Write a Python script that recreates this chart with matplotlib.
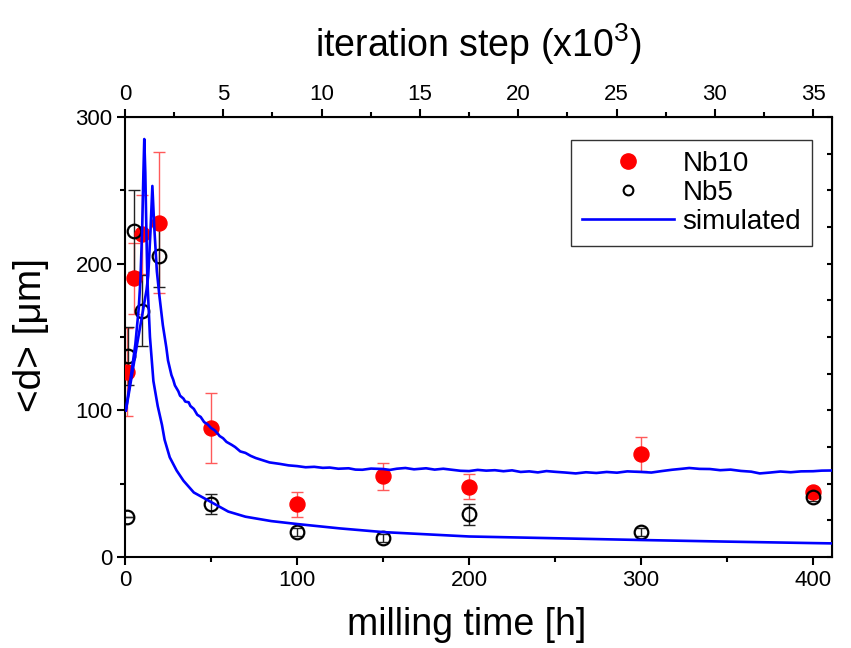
import matplotlib
matplotlib.use('Agg')
import matplotlib.pyplot as plt
from matplotlib.lines import Line2D
from matplotlib.ticker import MultipleLocator, FixedLocator

plt.rcParams['font.family'] = ['Liberation Sans', 'DejaVu Sans']
plt.rcParams['mathtext.fontset'] = 'custom'
plt.rcParams['mathtext.rm'] = 'Liberation Sans'

# ---- data ----
nb10_t = [1, 5, 10, 20, 50, 100, 150, 200, 300, 400]
nb10_d = [126, 190, 220, 228, 88, 36, 55, 48, 70, 44]
nb10_err = [30, 24, 27, 48, 24, 8.5, 9, 8.5, 11.5, 3]

nb5_t = [1, 2, 5, 10, 20, 50, 100, 150, 200, 300, 400]
nb5_d = [27, 137, 222, 168, 205, 36, 17, 13, 29, 17, 41]
nb5_err = [0, 20, 28, 24, 21, 7, 3, 3, 7, 3, 3]

simA_t = [0.5, 2, 4, 6, 8, 9, 10, 10.7, 11.2, 11.8, 12.3, 13, 14.5, 16.5, 19, 21.5,
          23, 26, 30, 34, 40, 50, 60, 70, 85, 100, 125, 150, 175, 200, 250, 300,
          350, 400, 411]
simA_d = [100, 112, 128, 145, 170, 190, 225, 262, 285, 262, 230, 189, 150, 120, 103, 90,
          80, 68, 59, 52, 44, 37.5, 31, 27.5, 24.5, 22.5, 19.5, 17, 15.5, 14, 12.8, 11.6,
          10.5, 9.5, 9.3]

simB_t = [0.5, 2, 4, 7, 10, 12.5, 13.5, 14.8, 15.9, 17, 18.5, 20, 22, 24, 25, 27, 28,
          29, 31, 32, 34, 35, 37, 38, 40, 42, 44, 46, 48, 50, 52, 54, 55, 57, 59, 62,
          64, 67, 70, 73, 76, 80, 84, 90, 95, 100, 105, 110, 115, 119, 124, 130, 134,
          138, 143, 150, 154, 158, 163, 168, 175, 180, 185, 190, 195, 200, 205, 210,
          215, 220, 225, 230, 235, 240, 245, 250, 256, 262, 268, 274, 280, 286, 292,
          300, 306, 312, 318, 324, 328, 334, 340, 346, 352, 358, 364, 369, 375, 381,
          387, 393, 400, 405, 411]
simB_d = [100, 110, 124, 145, 165, 182, 192, 222, 253, 225, 195, 178, 158, 143, 134, 124, 121,
          117, 113, 110, 108, 106, 105.5, 103, 101, 97, 95.5, 92, 90.5, 88, 86.5, 84, 82.5,
          81, 78.5, 76.5, 75, 72, 71, 69, 67.5, 66, 64.5, 63.5, 62.5, 62, 61.2, 61.5, 60.8,
          61, 60.2, 60.5, 59.6, 59.5, 60.3, 60, 59.4, 60.2, 60.7, 59.8, 60.5, 59.6, 60.2,
          59.5, 58.8, 58.6, 59.4, 58.9, 59.2, 58.5, 59.1, 58, 58.4, 57.7, 58.6, 58.1,
          57.6, 57, 57.8, 57.3, 58, 57.5, 58.4, 58, 57.6, 58.6, 59.5, 60.2, 60.7, 60.1,
          60, 59.2, 59.6, 58.7, 58.2, 57, 57.6, 58.3, 57.8, 58.4, 58.5, 58.9, 59]

# ---- figure ----
fig = plt.figure(figsize=(8.51, 6.48), dpi=100)
ax = fig.add_axes([0.1469, 0.1404, 0.8308, 0.679])

ax.errorbar(nb10_t, nb10_d, yerr=nb10_err, fmt='none', ecolor='#ff5a5a',
            elinewidth=1.0, capsize=4.5, capthick=1.0, zorder=2)
ax.errorbar(nb5_t, nb5_d, yerr=nb5_err, fmt='none', ecolor='#222222',
            elinewidth=1.0, capsize=4.5, capthick=1.0, zorder=2)
ax.plot(nb10_t, nb10_d, 'o', color='#ff0000', ms=10.8, mec='#ff0000', zorder=3)
ax.plot(nb5_t, nb5_d, 'o', mfc='none', mec='black', ms=9.8, mew=1.6, zorder=3)
ax.plot(simA_t, simA_d, '-', color='#0000ff', lw=1.9, zorder=4)
ax.plot(simB_t, simB_d, '-', color='#0000ff', lw=1.9, zorder=4)

ax.set_xlim(0, 411)
ax.set_ylim(0, 300)
ax.xaxis.set_major_locator(MultipleLocator(100))
ax.xaxis.set_minor_locator(MultipleLocator(50))
ax.yaxis.set_major_locator(MultipleLocator(100))
ax.yaxis.set_minor_locator(MultipleLocator(50))
ax.tick_params(which='major', direction='out', length=6, width=1.5, labelsize=16, pad=3)
ax.tick_params(which='minor', direction='out', length=3.5, width=1.5)
for s in ax.spines.values():
    s.set_linewidth(1.5)

ax.set_xlabel('milling time [h]', fontsize=27)
ax.xaxis.set_label_coords(0.483, -0.113)
ax.set_ylabel('<d> [\u03bcm]', fontsize=28)
ax.yaxis.set_label_coords(-0.107, 0.505)

# top axis: iteration step
top = ax.secondary_xaxis('top', functions=(lambda h: h * 35.0 / 400.0,
                                           lambda s: s * 400.0 / 35.0))
top.xaxis.set_major_locator(FixedLocator([0, 5, 10, 15, 20, 25, 30, 35]))
top.xaxis.set_minor_locator(FixedLocator([2.5, 7.5, 12.5, 17.5, 22.5, 27.5, 32.5]))
top.tick_params(which='major', direction='out', length=6, width=1.5, labelsize=16, pad=3)
top.tick_params(which='minor', direction='out', length=3.5, width=1.5)
top.set_xlabel('iteration step (x10$^{\\mathregular{3}}$)', fontsize=27, labelpad=19)

# right axis: inward ticks only
right = ax.secondary_yaxis('right')
right.yaxis.set_major_locator(MultipleLocator(25))
right.tick_params(which='major', direction='in', length=3.5, width=1.5, labelright=False)

handles = [Line2D([], [], ls='none', marker='o', color='#ff0000', ms=11),
           Line2D([], [], ls='none', marker='o', mfc='none', mec='black', ms=7, mew=1.5),
           Line2D([], [], color='#0000ff', lw=1.9)]
leg = ax.legend(handles, ['Nb10', 'Nb5', 'simulated'], loc='upper right',
                bbox_to_anchor=(0.972, 0.948), fontsize=20, frameon=True,
                fancybox=False, edgecolor='black', handlelength=3.3,
                labelspacing=0.1, borderpad=0.4, handletextpad=0.3,
                borderaxespad=0.0)
leg.get_frame().set_linewidth(1.0)

fig.savefig('out.png', dpi=100)
